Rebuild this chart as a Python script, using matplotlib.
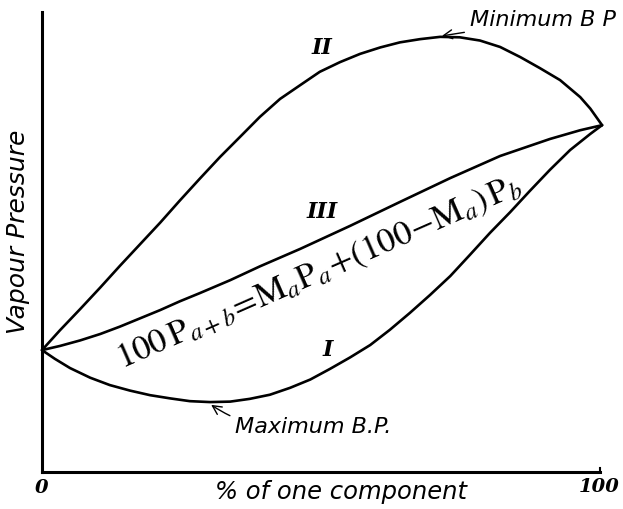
import matplotlib.pyplot as plt

# composition (% of one component) and vapour pressure, arbitrary units
x_ii = [0, 3.2, 6.8, 10.4, 13.9, 17.5, 21.1, 24.6, 28.2, 31.8, 35.4, 38.9, 42.5, 46.1, 49.6, 53.2,
        56.8, 60.4, 63.9, 67.5, 71.1, 74.6, 78.2, 81.8, 85.4, 88.9, 92.5, 96.1, 97.9, 100]
p_ii = [26.5, 30.8, 35.4, 40.1, 44.8, 49.5, 54.2, 59.0, 63.8, 68.5, 72.9, 77.2, 81.1, 84.1, 87.0, 89.1,
        90.9, 92.3, 93.4, 94.1, 94.6, 94.5, 93.8, 92.4, 90.2, 87.8, 85.2, 81.5, 79.0, 75.4]

x_iii = [0, 3.2, 6.8, 10.4, 13.9, 17.5, 21.1, 24.6, 28.2, 33.6, 38.9, 46.1, 55.0, 63.9, 72.9, 81.8,
         90.7, 96.1, 100]
p_iii = [26.5, 27.4, 28.6, 30.0, 31.6, 33.4, 35.2, 37.1, 38.9, 41.7, 44.7, 48.5, 53.5, 58.7, 63.9, 68.7,
         72.4, 74.3, 75.4]

x_i = [0, 2.3, 5.0, 8.6, 12.1, 15.7, 19.3, 22.9, 26.4, 30.0, 33.6, 37.1, 40.7, 44.3, 47.9, 51.4,
       55.0, 58.6, 62.1, 65.7, 69.3, 72.9, 76.4, 80.0, 83.6, 87.1, 90.7, 94.3, 97.9, 100]
p_i = [26.5, 24.6, 22.6, 20.5, 18.9, 17.7, 16.7, 16.0, 15.4, 15.2, 15.3, 15.9, 16.8, 18.3, 20.1, 22.4,
       24.9, 27.6, 30.9, 34.6, 38.5, 42.6, 47.2, 52.0, 56.5, 61.1, 65.7, 70.0, 73.5, 75.4]

CURVE_LABELS = ["I", "II", "III"]
X_TICK_LABELS = ["0", "100"]
EQUATION = (r"$\mathrm{100\,P}_{a+b}\!=\!\mathrm{M}_a\mathrm{P}_a\!+\!"
            r"(\mathrm{100}\!-\!\mathrm{M}_a)\,\mathrm{P}_b$")

plt.rcParams["mathtext.fontset"] = "stix"

fig = plt.figure(figsize=(6.23, 5.09), dpi=100)
ax = fig.add_axes([0.0674, 0.0727, 0.899, 0.9037])
ax.set_xlim(0, 100)
ax.set_ylim(0, 100)
ax.set_xticks([])
ax.set_yticks([])
for side in ["top", "right"]:
    ax.spines[side].set_visible(False)
for side in ["left", "bottom"]:
    ax.spines[side].set_linewidth(2.2)
ax.spines["bottom"].set_bounds(0, 99.6)
# small upturn at the end of the composition axis
ax.plot([99.6, 99.6], [0, 0.8], color="black", lw=1.5, clip_on=False)

line_kw = dict(color="black", lw=1.9, solid_joinstyle="round", solid_capstyle="round", clip_on=False)
ax.plot(x_ii, p_ii, **line_kw)
ax.plot(x_iii, p_iii, **line_kw)
ax.plot(x_i, p_i, **line_kw)

num_kw = dict(family="DejaVu Serif", style="italic", weight="bold", fontsize=16, ha="center", va="center")
ax.text(51.1, 26.5, CURVE_LABELS[0], **num_kw)
ax.text(50.0, 92.2, CURVE_LABELS[1], **num_kw)
ax.text(50.0, 56.5, CURVE_LABELS[2], **num_kw)

ax.text(49.6, 43.4, EQUATION, fontsize=25, rotation=23.7, rotation_mode="anchor",
        ha="center", va="center")

lbl_kw = dict(style="italic", fontsize=16)
ax.annotate("Minimum B P", xy=(71.4, 94.8), xytext=(76.4, 98.3), ha="left", va="center",
            arrowprops=dict(arrowstyle="->", lw=1.0, color="black", shrinkA=2, shrinkB=0), **lbl_kw)
ax.annotate("Maximum B.P.", xy=(30.2, 14.6), xytext=(34.5, 9.8), ha="left", va="center",
            arrowprops=dict(arrowstyle="->", lw=1.0, color="black", shrinkA=2, shrinkB=0,
                            connectionstyle="arc3,rad=-0.2"), **lbl_kw)

tick_kw = dict(family="DejaVu Serif", style="italic", weight="bold", fontsize=14, ha="center", va="center")
ax.text(0, -3.5, X_TICK_LABELS[0], **tick_kw)
ax.text(99.5, -3.3, X_TICK_LABELS[1], **tick_kw)

ax.text(53.4, -4.3, "% of one component", ha="center", va="center", style="italic", fontsize=17.5)
ax.text(-4.3, 52.2, "Vapour Pressure", rotation=90, ha="center", va="center", style="italic", fontsize=18)

fig.savefig("out.png", dpi=100)
